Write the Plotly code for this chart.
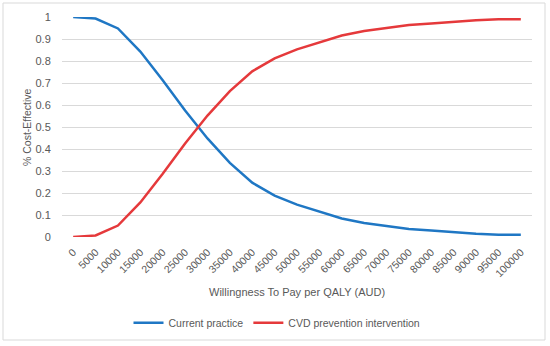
import plotly.graph_objects as go

wtp = [0, 5000, 10000, 15000, 20000, 25000, 30000, 35000, 40000, 45000, 50000,
       55000, 60000, 65000, 70000, 75000, 80000, 85000, 90000, 95000, 100000]
current_practice = [1.0, 0.993, 0.948, 0.843, 0.713, 0.575, 0.448, 0.337, 0.247, 0.188, 0.147,
                    0.114, 0.084, 0.064, 0.049, 0.036, 0.030, 0.021, 0.015, 0.010, 0.010]
cvd_intervention = [0.0, 0.007, 0.052, 0.157, 0.287, 0.425, 0.552, 0.663, 0.753, 0.812, 0.853,
                    0.886, 0.916, 0.936, 0.951, 0.964, 0.970, 0.979, 0.985, 0.990, 0.990]
y_ticks = [0, 0.1, 0.2, 0.3, 0.4, 0.5, 0.6, 0.7, 0.8, 0.9, 1]

idx = list(range(len(wtp)))
FONT = "Liberation Sans"
GREY = "#595959"

fig = go.Figure()
fig.add_trace(go.Scatter(x=idx, y=current_practice, mode="lines", name="Current practice",
                         line=dict(color="#1f77c4", width=2.5)))
fig.add_trace(go.Scatter(x=idx, y=cvd_intervention, mode="lines", name="CVD prevention intervention",
                         line=dict(color="#e5393b", width=2.5)))

fig.update_layout(
    width=550, height=346,
    margin=dict(l=62, r=18, t=17, b=109, autoexpand=False),
    paper_bgcolor="white", plot_bgcolor="white",
    font=dict(family=FONT, size=11, color=GREY),
    showlegend=True,
    legend=dict(orientation="h", x=(277 - 62) / 470, xanchor="center", y=-0.39, yanchor="middle",
                font=dict(family=FONT, size=10.5, color=GREY), itemwidth=30,
                bgcolor="rgba(0,0,0,0)"),
    xaxis=dict(range=[-0.5, len(wtp) - 0.5], tickvals=idx, ticktext=[str(v) for v in wtp],
               tickangle=-45, showgrid=False, zeroline=False, showline=False,
               ticks="outside", ticklen=4, tickcolor="rgba(0,0,0,0)",
               tickfont=dict(family=FONT, size=10.5, color=GREY), fixedrange=True),
    yaxis=dict(range=[0, 1], tickvals=y_ticks, ticktext=[f"{v:g}" for v in y_ticks],
               showgrid=True, gridcolor="#d9d9d9", gridwidth=1, zeroline=False,
               showline=False, ticks="outside", ticklen=8, tickcolor="rgba(0,0,0,0)",
               tickfont=dict(family=FONT, size=11, color=GREY), fixedrange=True),
    shapes=[dict(type="rect", xref="paper", yref="paper",
                 x0=(3 - 62) / 470, x1=(545 - 62) / 470,
                 y0=(237 - 340) / 220, y1=(237 - 3) / 220,
                 line=dict(color="#d9d9d9", width=1), fillcolor="rgba(0,0,0,0)")],
    annotations=[
        dict(text="Willingness To Pay per QALY (AUD)", xref="paper", yref="paper",
             x=0.5, y=(237 - 292) / 220, showarrow=False, xanchor="center", yanchor="middle",
             font=dict(family=FONT, size=11, color=GREY)),
        dict(text="% Cost-Effective", xref="paper", yref="paper",
             x=(27 - 62) / 470, y=0.5, showarrow=False, textangle=-90,
             xanchor="center", yanchor="middle",
             font=dict(family=FONT, size=10.5, color=GREY)),
    ],
)

fig.write_html("out.html", config={"displayModeBar": False},
               post_script="document.body.style.margin='0';document.body.style.overflow='hidden';")
